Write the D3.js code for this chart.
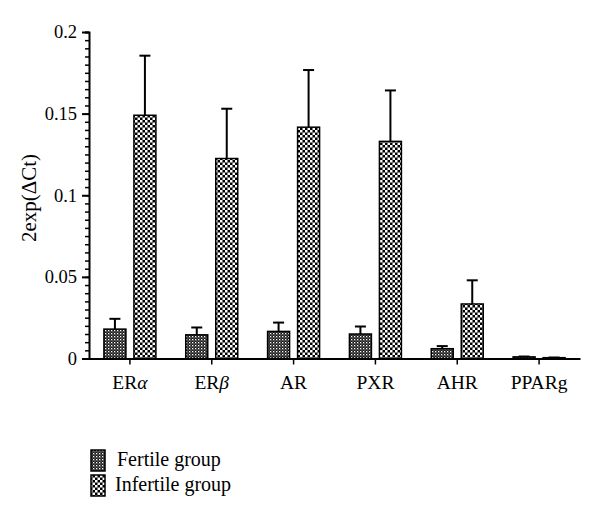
<!doctype html>
<html>
<head>
<meta charset="utf-8">
<style>
  body { margin: 0; background: #fff; }
  svg { display: block; font-family: "Liberation Serif", "DejaVu Serif", serif; }
</style>
</head>
<body>
<svg width="600" height="520"></svg>
<script src="https://d3js.org/d3.v7.min.js"></script>
<script>
// gene labels; greek letter kept apart so it can be italic
var categories = ["ERα", "ERβ", "AR", "PXR", "AHR", "PPARg"];
var fertile = [0.018, 0.0145, 0.0166, 0.015, 0.006, 0.001];
var fertileErr = [0.0063, 0.0045, 0.0054, 0.0046, 0.0016, 0.0002];
var infertile = [0.149, 0.1225, 0.1417, 0.133, 0.0334, 0.0005];
var infertileErr = [0.0365, 0.0305, 0.035, 0.0312, 0.0145, 0.0001];
var yTicks = [0, 0.05, 0.1, 0.15, 0.2];
var yTickLabels = ["0", "0.05", "0.1", "0.15", "0.2"];
var groups = ["Fertile group", "Infertile group"];

var svg = d3.select("svg");

var x = d3.scaleBand().domain(categories).range([89, 580]);
var y = d3.scaleLinear().domain([0, 0.2]).range([358.5, 32]);

// fill patterns
var defs = svg.append("defs");
var p1 = defs.append("pattern").attr("id", "pFertile")
    .attr("patternUnits", "userSpaceOnUse").attr("width", 3).attr("height", 3);
p1.append("rect").attr("width", 3).attr("height", 3).attr("fill", "#1a1a1a");
p1.append("rect").attr("x", 0).attr("y", 0).attr("width", 1.3).attr("height", 1.3).attr("fill", "#fff");
p1.append("rect").attr("x", 1.5).attr("y", 1.5).attr("width", 1).attr("height", 1).attr("fill", "#bbb");

var p2 = defs.append("pattern").attr("id", "pInfertile")
    .attr("patternUnits", "userSpaceOnUse").attr("width", 5).attr("height", 5);
p2.append("rect").attr("width", 5).attr("height", 5).attr("fill", "#000");
p2.append("rect").attr("x", 0).attr("y", 0).attr("width", 2.5).attr("height", 2.5).attr("fill", "#fff");
p2.append("rect").attr("x", 2.5).attr("y", 2.5).attr("width", 2.5).attr("height", 2.5).attr("fill", "#fff");

var barW = 22, offset = 15;

function drawSeries(vals, errs, dx, fill) {
  var g = svg.append("g");
  categories.forEach(function(c, i) {
    var cx = x(c) + x.bandwidth() / 2 + dx;
    var top = y(vals[i]);
    var errTop = y(vals[i] + errs[i]);
    g.append("line")
        .attr("x1", cx).attr("x2", cx)
        .attr("y1", top).attr("y2", errTop)
        .attr("stroke", "#000").attr("stroke-width", 2);
    g.append("line")
        .attr("x1", cx - 5.5).attr("x2", cx + 5.5)
        .attr("y1", errTop).attr("y2", errTop)
        .attr("stroke", "#000").attr("stroke-width", 2);
    g.append("rect")
        .attr("x", cx - barW / 2)
        .attr("y", top)
        .attr("width", barW)
        .attr("height", y(0) - top)
        .attr("fill", fill)
        .attr("stroke", "#000")
        .attr("stroke-width", 1.5);
  });
}

drawSeries(fertile, fertileErr, -offset, "url(#pFertile)");
drawSeries(infertile, infertileErr, offset, "url(#pInfertile)");

// y axis
var yAxis = svg.append("g").attr("transform", "translate(89,0)");
yAxis.call(d3.axisLeft(y).tickValues(d3.range(0, 0.2001, 0.005)).tickSize(4).tickFormat(""))
yAxis.selectAll(".tick line").attr("stroke-width", 1.5);
yAxis.select(".domain").attr("stroke-width", 2);
var yMajor = svg.append("g").attr("transform", "translate(89,0)")
    .call(d3.axisLeft(y).tickValues(yTicks).tickSize(7).tickPadding(5)
      .tickFormat(function(d, i) { return yTickLabels[i]; }));
yMajor.select(".domain").remove();
yMajor.selectAll(".tick line").attr("stroke-width", 2);
yMajor.selectAll("text").attr("font-size", 18.5).attr("font-family", "Liberation Serif").attr("fill", "#000");

// x axis
var xAxis = svg.append("g").attr("transform", "translate(0," + y(0) + ")")
    .call(d3.axisBottom(x).tickSize(6).tickSizeOuter(0).tickPadding(11));
xAxis.select(".domain").attr("stroke-width", 2);
xAxis.selectAll(".tick line").attr("stroke-width", 1.5);
xAxis.selectAll("text").attr("font-size", 19.5).attr("font-family", "Liberation Serif").attr("fill", "#000")
  .each(function(d) {
    var t = d3.select(this);
    var m = d.match(/^(ER)([αβ])$/);
    if (m) {
      t.text(null);
      t.append("tspan").text(m[1]);
      t.append("tspan").attr("font-style", "italic").text(m[2]);
    }
  });

// y label
svg.append("text")
    .attr("transform", "translate(36,198) rotate(-90)")
    .attr("text-anchor", "middle")
    .attr("font-size", 21)
    .text("2exp(ΔCt)");

// legend
var legend = svg.append("g");
var fills = ["url(#pFertile)", "url(#pInfertile)"];
groups.forEach(function(gname, i) {
  var ly = 450 + i * 25;
  legend.append("rect")
      .attr("x", 91).attr("y", ly)
      .attr("width", 14).attr("height", 21)
      .attr("fill", fills[i])
      .attr("stroke", "#000").attr("stroke-width", 1.5);
  legend.append("text")
      .attr("x", i === 0 ? 117 : 115).attr("y", ly + 16)
      .attr("font-size", 20)
      .text(gname);
});
</script>
</body>
</html>
